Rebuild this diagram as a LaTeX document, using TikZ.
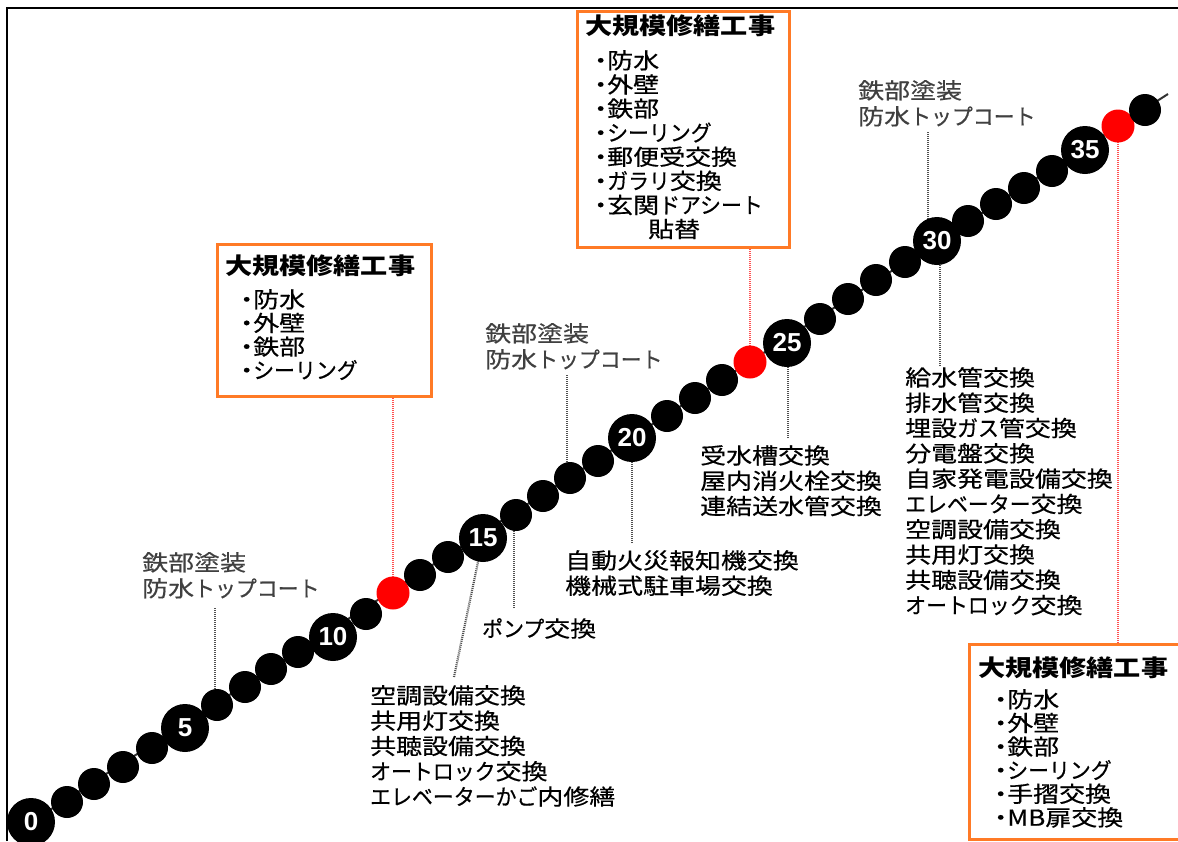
\documentclass[tikz,border=0pt]{standalone}
\usepackage{fontspec}
\newfontfamily\jpf[FakeStretch=1.18]{Noto Sans CJK JP}
\newfontfamily\jpr[FakeStretch=1.18,FakeBold=0.5]{Noto Sans CJK JP}
\newfontfamily\knf[FakeStretch=0.95,FakeBold=0.5]{Noto Sans CJK JP}
\newcommand\kn[1]{{\knf #1}}
\newcommand\bul{\makebox[13pt][c]{・}}
\newfontfamily\numf{Liberation Sans}
\definecolor{orng}{RGB}{255,122,38}
\definecolor{rdot}{RGB}{255,80,80}
\definecolor{gdot}{RGB}{80,80,80}
\definecolor{ballred}{RGB}{255,0,0}
\begin{document}
\begin{tikzpicture}[x=1pt,y=-1pt,
  sb/.style={circle,fill=black,inner sep=0,minimum size=32pt},
  bb/.style={circle,fill=black,inner sep=0,minimum size=48pt},
  rb/.style={circle,fill=ballred,inner sep=0,minimum size=33pt},
  num/.style={text=white,font=\numf\bfseries\fontsize{26}{26}\selectfont,inner sep=0},
  txt/.style={inner sep=0,anchor=north west,align=left,text=black,font=\jpr\fontsize{22}{25.3}\selectfont},
  itm/.style={txt,font=\jpr\fontsize{22}{23.6}\selectfont},
  ttl/.style={inner sep=0,anchor=north west,text=black,font=\jpf\bfseries\fontsize{23}{26}\selectfont},
  grt/.style={txt,text=black!75,font=\jpr\fontsize{22}{26}\selectfont},
  obox/.style={draw=orng,line width=3pt,fill=white,anchor=north west,inner sep=0},
  dotl/.style={draw=gdot,line width=2.2pt,dash pattern=on 1pt off 1pt},
  redl/.style={draw=rdot,line width=2.2pt,dash pattern=on 1pt off 1pt}]
\useasboundingbox (0,0) rectangle (1178,841);
\fill[white] (0,0) rectangle (1178,841);
% frame
\draw[line width=2.5pt] (7,841) -- (7,8) -- (1178,8);

% orange boxes
\node[obox,minimum width=214pt,minimum height=152pt] (box1) at (216,243) {};
\node[obox,minimum width=212pt,minimum height=236pt] (box2) at (576,10) {};
\node[obox,minimum width=216pt,minimum height=195pt] (box3) at (968,643) {};

% ball positions
\foreach \i/\x/\y in {0/31/822,1/67/802,2/94/784,3/123/767,4/152/748,5/185/728,6/217/705,7/245/687,8/271/669,9/298/652,10/333/637,11/366/614,12/393/593,13/420/575,14/448/557,15/483/538,16/516/515,17/543/496,18/570/478,19/598/461,20/632/438,21/667/416,22/695/398,23/722/380,24/750/362,25/787/343,26/820/319,27/848/299,28/876/280,29/905/262,30/937/241,31/968/221,32/996/204,33/1024/188,34/1052/171,35/1085/150,36/1118/126,37/1145/110}
  \coordinate (p\i) at (\x,\y);

% string line and tail
\coordinate (tail) at (1168,94);
\draw[line width=2pt,black!80] (p0) -- (tail);

% red connectors to boxes
\draw[redl] (p12) -- (p12 |- box1.south);
\draw[redl] (p24) -- (p24 |- box2.south);
\draw[redl] (p36) -- (p36 |- box3.north);

% gray dotted connectors
\coordinate (u6) at (215,608);
\draw[dotl] (u6) -- (u6 |- p6);
\coordinate (u18) at (567,375);
\draw[dotl] (u18) -- (u18 |- p18);
\coordinate (u30) at (928,132);
\draw[dotl] (u30) -- (u30 |- p30);
\coordinate (d30) at (940,366);
\draw[dotl] (d30) -- (d30 |- p30);
\coordinate (d25) at (788,438);
\draw[dotl] (d25) -- (d25 |- p25);
\coordinate (d20) at (632,543);
\draw[dotl] (d20) -- (d20 |- p20);
\coordinate (d16) at (514,608);
\draw[dotl] (d16) -- (d16 |- p16);
\coordinate (d15) at (454,677);
\draw[dotl] (d15) -- (p15);

% balls
\foreach \i/\s in {0/bb,1/sb,2/sb,3/sb,4/sb,5/bb,6/sb,7/sb,8/sb,9/sb,10/bb,11/sb,12/rb,13/sb,14/sb,15/bb,16/sb,17/sb,18/sb,19/sb,20/bb,21/sb,22/sb,23/sb,24/rb,25/bb,26/sb,27/sb,28/sb,29/sb,30/bb,31/sb,32/sb,33/sb,34/sb,35/bb,36/rb,37/sb}
  \node[\s] (b\i) at (p\i) {};
\foreach \i in {0,5,10,15,20,25,30,35}
  \node[num] (n\i) at (b\i) {\i};

% box texts
\node[ttl] (t1) at (225,255) {大規模修繕工事};
\node[itm] (i1) at (240,289) {\bul 防水\\\bul 外壁\\\bul 鉄部\\\bul\kn{シーリング}};
\node[ttl] (t2) at (585,15) {大規模修繕工事};
\node[itm,font=\jpr\fontsize{22}{24.1}\selectfont] (i2) at (594,50) {\bul 防水\\\bul 外壁\\\bul 鉄部\\\bul\kn{シーリング}\\\bul 郵便受交換\\\bul\kn{ガラリ}交換\\\bul 玄関\kn{ドアシート}\\\hspace*{54pt}貼替};
\node[ttl] (t3) at (978,657) {大規模修繕工事};
\node[itm] (i3) at (994,689) {\bul 防水\\\bul 外壁\\\bul 鉄部\\\bul\kn{シーリング}\\\bul 手摺交換\\\bul MB扉交換};

% other texts
\node[grt] (g1) at (142,552) {鉄部塗装\\防水\kn{トップコート}};
\node[grt] (g2) at (485,323) {鉄部塗装\\防水\kn{トップコート}};
\node[grt] (g3) at (858,80) {鉄部塗装\\防水\kn{トップコート}};
\node[txt] (x30) at (905,367) {給水管交換\\排水管交換\\埋設\kn{ガス}管交換\\分電盤交換\\自家発電設備交換\\\kn{エレベーター}交換\\空調設備交換\\共用灯交換\\共聴設備交換\\\kn{オートロック}交換};
\node[txt] (x25) at (700,445) {受水槽交換\\屋内消火栓交換\\連結送水管交換};
\node[txt] (x20) at (565,550) {自動火災報知機交換\\機械式駐車場交換};
\node[txt] (x16) at (482,618) {\kn{ポンプ}交換};
\node[txt] (x15) at (370,685) {空調設備交換\\共用灯交換\\共聴設備交換\\\kn{オートロック}交換\\\kn{エレベーターかご}内修繕};
\end{tikzpicture}
\end{document}
